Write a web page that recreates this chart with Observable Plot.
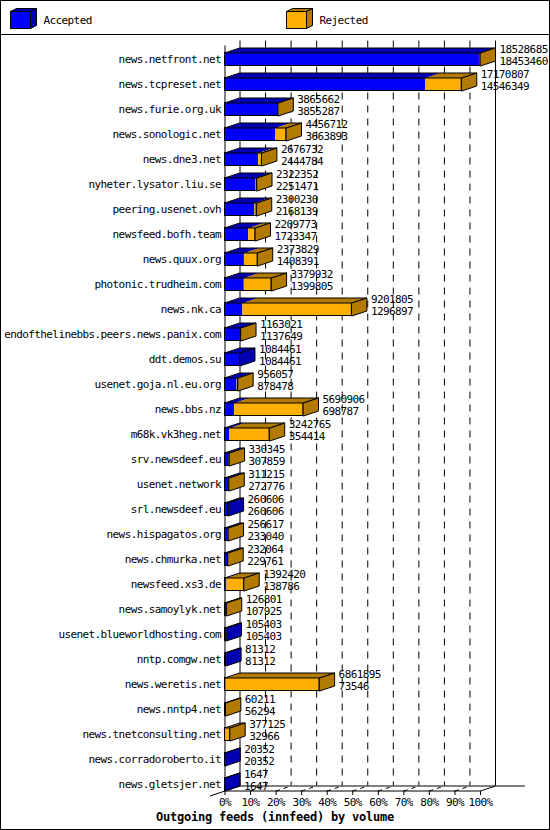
<!DOCTYPE html>
<html>
<head>
<meta charset="utf-8">
<script src="https://cdn.jsdelivr.net/npm/d3@7"></script>
<script src="https://cdn.jsdelivr.net/npm/@observablehq/plot@0.6"></script>
<style>
  body { margin: 0; background: #fff; }
  #wrap { position: relative; width: 550px; height: 830px; background: #fff; overflow: hidden;
          font-family: "DejaVu Sans Mono", monospace; color: #000; }
  #frame { position: absolute; left: 0; top: 0; width: 550px; height: 830px; box-sizing: border-box;
           border: 1px solid #000; pointer-events: none; }
  #legend { position: absolute; left: 0; top: 0; width: 550px; height: 35px; box-sizing: border-box;
            border-bottom: 1px solid #000; }
  .lgsw { position: absolute; top: 0; }
  .lgtx { position: absolute; top: 13.5px; font-size: 11px; line-height: 14px; letter-spacing: -0.6px; }
  #chart { position: absolute; left: 0; top: 35px; }
  #title { position: absolute; left: 0; top: 809px; width: 550px; text-align: center; font-weight: bold;
           font-size: 12px; letter-spacing: -0.22px; line-height: 16px; }
</style>
</head>
<body>
<div id="wrap">
  <div id="legend"></div>
  <div id="chart"></div>
  <div id="title"></div>
  <div id="frame"></div>
</div>
<script>
// ---------------- data ----------------
const hosts = [
  "news.netfront.net", "news.tcpreset.net", "news.furie.org.uk", "news.sonologic.net", "news.dne3.net",
  "nyheter.lysator.liu.se", "peering.usenet.ovh", "newsfeed.bofh.team", "news.quux.org", "photonic.trudheim.com",
  "news.nk.ca", "endofthelinebbs.peers.news.panix.com", "ddt.demos.su", "usenet.goja.nl.eu.org", "news.bbs.nz",
  "m68k.vk3heg.net", "srv.newsdeef.eu", "usenet.network", "srl.newsdeef.eu", "news.hispagatos.org",
  "news.chmurka.net", "newsfeed.xs3.de", "news.samoylyk.net", "usenet.blueworldhosting.com", "nntp.comgw.net",
  "news.weretis.net", "news.nntp4.net", "news.tnetconsulting.net", "news.corradoroberto.it", "news.gletsjer.net"
];
const offered = [
  18528685, 17170807, 3865662, 4456712, 2676732,
  2322352, 2300230, 2209773, 2373829, 3379932,
  9201805, 1163021, 1084461, 956057, 5690906,
  3242765, 330345, 311215, 260606, 256617,
  232064, 1392420, 126801, 105403, 81312,
  6861895, 60211, 377125, 20352, 1647
];
const accepted = [
  18453460, 14546349, 3855287, 3663893, 2444784,
  2251471, 2168139, 1723347, 1408391, 1399805,
  1296897, 1137649, 1084461, 878478, 698787,
  354414, 307859, 272776, 260606, 233040,
  229761, 138786, 107925, 105403, 81312,
  73546, 56294, 32966, 20352, 1647
];
const seriesNames = ["Accepted", "Rejected"];
const frontColors = ["#0000ff", "#ffaf00"];
const sideColors = ["#0000b2", "#b27a00"];
const xTicks = [0, 10, 20, 30, 40, 50, 60, 70, 80, 90, 100];
const gridTicks = [10, 20, 30, 40, 50, 60, 70, 80, 90];
const titleText = "Outgoing feeds (innfeed) by volume";

// ---------------- layout ----------------
const FONT = "DejaVu Sans Mono, monospace";
const FS = 11;
const X_RANGE = [224.5, 480];
const Y_RANGE = [24, 749];
const kx = (X_RANGE[1] - X_RANGE[0]) / 100;
const ky = (Y_RANGE[1] - Y_RANGE[0]) / (hosts.length - 1);
const DX = 15 / kx, DY = 5 / ky, H = 6.5 / ky;
const xPx = p => (p - X_RANGE[0]) / kx;
const yPx = p => (p - Y_RANGE[0]) / ky;

const maxTotal = d3.max(offered);
const rows = hosts.map((h, i) => ({
  host: h, i, total: offered[i], acc: accepted[i],
  tp: offered[i] / maxTotal * 100, ap: accepted[i] / maxTotal * 100,
  rej: offered[i] - accepted[i]
}));

function poly(id, pts, fill) { return pts.map(([x, y]) => ({id, x, y, fill})); }

const topAcc = [], topRej = [], sides = [], topOut = [];
rows.forEach(r => {
  const yf = r.i - H, yb = r.i - H - DY;
  topAcc.push(...poly("a" + r.i, [[0, yf], [r.ap, yf], [r.ap + DX, yb], [DX, yb]], sideColors[0]));
  if (r.tp > r.ap) topRej.push(...poly("r" + r.i, [[r.ap, yf], [r.tp, yf], [r.tp + DX, yb], [r.ap + DX, yb]], sideColors[1]));
  sides.push(...poly("s" + r.i, [[r.tp, yf], [r.tp + DX, yb], [r.tp + DX, r.i + H - DY], [r.tp, r.i + H]],
    r.rej > 0 ? sideColors[1] : sideColors[0]));
  topOut.push(...poly("o" + r.i, [[0, yf], [r.tp, yf], [r.tp + DX, yb], [DX, yb]], "none"));
});

const floorFront = yPx(755.5), floorBack = yPx(750.5);

const chart = Plot.plot({
  width: 550, height: 775,
  marginTop: 0, marginBottom: 0, marginLeft: 0, marginRight: 0,
  x: {domain: [0, 100], range: X_RANGE, axis: null},
  y: {domain: [0, hosts.length - 1], range: Y_RANGE, axis: null},
  color: {type: "identity"},
  style: {fontFamily: FONT, fontSize: FS + "px", letterSpacing: "-0.6px", background: "transparent", overflow: "visible"},
  marks: [
    // back wall grid
    Plot.ruleX(gridTicks, {x: d => d + DX, y1: yPx(5.5), y2: floorBack, stroke: "#000", strokeWidth: 1, strokeDasharray: "7,6"}),
    Plot.ruleX([0, 100], {x: d => d + DX, y1: yPx(5.5), y2: floorBack, stroke: "#000", strokeWidth: 1}),
    // front axis
    Plot.ruleX([0], {y1: yPx(10.5), y2: floorFront, stroke: "#000", strokeWidth: 1}),
    // floor
    Plot.ruleY([floorBack], {x1: DX, x2: xPx(525), stroke: "#000", strokeWidth: 1}),
    Plot.ruleY([floorFront], {x1: 0, x2: 100, stroke: "#000", strokeWidth: 1}),
    Plot.link(gridTicks, {x1: d => d, y1: floorFront, x2: d => d + DX, y2: floorBack, stroke: "#000", strokeWidth: 1, strokeDasharray: "4,4"}),
    Plot.link([100], {x1: d => d, y1: floorFront, x2: d => d + DX, y2: floorBack, stroke: "#000", strokeWidth: 1}),
    Plot.link([0], {x1: -DX, y1: yPx(760.5), x2: DX, y2: floorBack, stroke: "#000", strokeWidth: 1}),
    Plot.ruleX(xTicks, {y1: floorFront, y2: yPx(760), stroke: "#000", strokeWidth: 1}),
    Plot.text(xTicks, {x: d => d, y: yPx(767), text: d => d + "%", fontSize: FS, fontFamily: FONT, fill: "#000"}),
    // front faces
    Plot.rect(rows, {x1: 0, x2: "ap", y1: d => d.i - H, y2: d => d.i + H, fill: frontColors[0]}),
    Plot.rect(rows.filter(r => r.tp > r.ap), {x1: "ap", x2: "tp", y1: d => d.i - H, y2: d => d.i + H, fill: frontColors[1]}),
    Plot.rect(rows, {x1: 0, x2: "tp", y1: d => d.i - H, y2: d => d.i + H, fill: "none", stroke: "#000", strokeWidth: 1}),
    // top faces
    Plot.line(topAcc, {x: "x", y: "y", z: "id", fill: "fill", stroke: "none", curve: "linear-closed"}),
    Plot.line(topRej, {x: "x", y: "y", z: "id", fill: "fill", stroke: "none", curve: "linear-closed"}),
    Plot.line(topOut, {x: "x", y: "y", z: "id", fill: "none", stroke: "#000", strokeWidth: 1, curve: "linear-closed"}),
    // side faces
    Plot.line(sides, {x: "x", y: "y", z: "id", fill: "fill", stroke: "#000", strokeWidth: 1, curve: "linear-closed"}),
    // labels
    Plot.text(rows, {x: 0, y: "i", text: "host", textAnchor: "end", dx: -4, fontSize: FS, fontFamily: FONT, fill: "#000"}),
    Plot.text(rows, {x: "tp", y: "i", text: d => String(d.total), textAnchor: "start", dx: 19, dy: -10, fontSize: FS, fontFamily: FONT, fill: "#000"}),
    Plot.text(rows, {x: "tp", y: "i", text: d => String(d.acc), textAnchor: "start", dx: 19, dy: 1.5, fontSize: FS, fontFamily: FONT, fill: "#000"})
  ]
});
document.getElementById("chart").appendChild(chart);
document.getElementById("title").textContent = titleText;

// ---------------- legend ----------------
const legend = document.getElementById("legend");
const legendX = [10.5, 286.5];
seriesNames.forEach((name, k) => {
  const x0 = legendX[k];
  const sw = document.createElementNS("http://www.w3.org/2000/svg", "svg");
  sw.setAttribute("class", "lgsw");
  sw.setAttribute("width", "40");
  sw.setAttribute("height", "34");
  sw.style.left = (x0 - 1.5) + "px";
  const w = 20, h = 17, d = 6, e = 3, ox = 1.5, oy = 11.5;
  sw.innerHTML =
    `<rect x="${ox}" y="${oy}" width="${w}" height="${h}" fill="${frontColors[k]}" stroke="#000"/>` +
    `<polygon points="${ox},${oy} ${ox + w},${oy} ${ox + w + d},${oy - e} ${ox + d},${oy - e}" fill="${sideColors[k]}" stroke="#000"/>` +
    `<polygon points="${ox + w},${oy} ${ox + w + d},${oy - e} ${ox + w + d},${oy + h - e} ${ox + w},${oy + h}" fill="${sideColors[k]}" stroke="#000"/>`;
  legend.appendChild(sw);
  const tx = document.createElement("div");
  tx.className = "lgtx";
  tx.style.left = (x0 + 33) + "px";
  tx.textContent = name;
  legend.appendChild(tx);
});
</script>
</body>
</html>
